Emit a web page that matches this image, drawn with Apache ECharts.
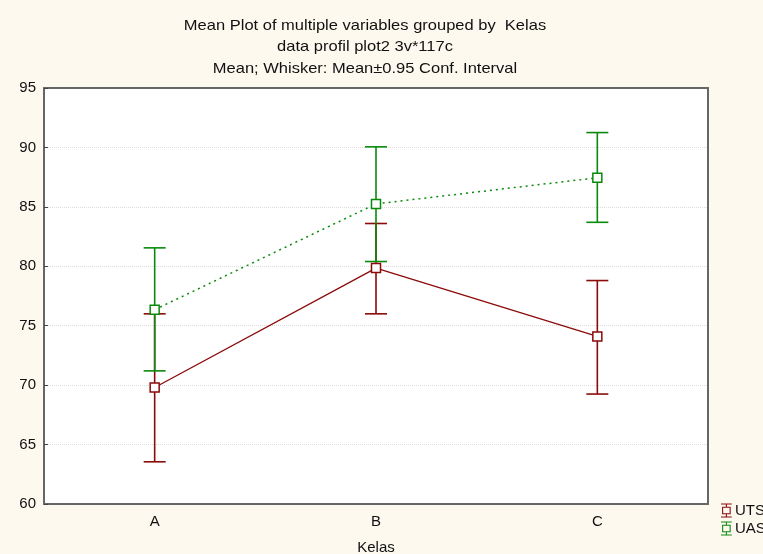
<!DOCTYPE html>
<html>
<head>
<meta charset="utf-8">
<script src="https://cdn.jsdelivr.net/npm/echarts@6/dist/echarts.min.js"></script>
<style>
html,body{margin:0;padding:0;background:#FDF9EF;}
#chart{width:763px;height:554px;}
</style>
</head>
<body>
<div id="chart"></div>
<script>
const categories = ['A', 'B', 'C'];
const utsMean = [69.8, 79.85, 74.1];
const utsLow = [63.55, 76.0, 69.25];
const utsHigh = [76.0, 83.6, 78.8];
const uasMean = [76.35, 85.25, 87.45];
const uasLow = [71.2, 80.4, 83.7];
const uasHigh = [81.55, 90.05, 91.25];
const yTicks = [60, 65, 70, 75, 80, 85, 90, 95];
const titleLines = [
  'Mean Plot of multiple variables grouped by  Kelas',
  'data profil plot2 3v*117c',
  'Mean; Whisker: Mean\u00b10.95 Conf. Interval'
];

const UTS_COLOR = '#8B0A0A';
const UAS_COLOR = '#0A8A0A';
const FONT = "'Liberation Sans', Arial, sans-serif";

function errBar(color) {
  return function (params, api) {
    const x = api.value(0);
    const top = api.coord([x, api.value(2)]);
    const bot = api.coord([x, api.value(1)]);
    const hw = 11;
    const st = { stroke: color, lineWidth: 1.6 };
    return {
      type: 'group',
      children: [
        { type: 'line', shape: { x1: top[0], y1: top[1], x2: bot[0], y2: bot[1] }, style: st },
        { type: 'line', shape: { x1: top[0] - hw, y1: top[1], x2: top[0] + hw, y2: top[1] }, style: st },
        { type: 'line', shape: { x1: bot[0] - hw, y1: bot[1], x2: bot[0] + hw, y2: bot[1] }, style: st }
      ]
    };
  };
}

const legendIcon = 'path://M0,0 L10,0 L10,1 L5.5,1 L5.5,3 L9,3 L9,10 L5.5,10 L5.5,12 L10,12 L10,13 L0,13 L0,12 L4.5,12 L4.5,10 L1,10 L1,3 L4.5,3 L4.5,1 L0,1 Z M2,4 L2,9 L8,9 L8,4 Z';

const chart = echarts.init(document.getElementById('chart'), null, { renderer: 'canvas' });
chart.setOption({
  backgroundColor: '#FDF9EF',
  animation: false,
  graphic: titleLines.map((t, i) => ({
    type: 'text',
    x: 365,
    y: [26, 47, 69][i],
    scaleX: 1.1,
    style: {
      text: t,
      font: '15px ' + FONT,
      fill: '#111',
      textAlign: 'center',
      textVerticalAlign: 'middle'
    }
  })),
  legend: {
    orient: 'vertical',
    left: 716,
    top: 498,
    itemWidth: 11,
    itemHeight: 14,
    itemGap: 3,
    textStyle: { fontFamily: FONT, fontSize: 15, color: '#111', padding: [0, 0, 0, -2] },
    data: [
      { name: 'UTS', icon: legendIcon, itemStyle: { color: UTS_COLOR } },
      { name: 'UAS', icon: legendIcon, itemStyle: { color: UAS_COLOR } }
    ]
  },
  grid: { left: 44, right: 55, top: 88, bottom: 50, show: true, backgroundColor: '#FFFFFF', borderWidth: 0, outerBoundsMode: 'none', containLabel: false },
  xAxis: [
    {
      type: 'category',
      data: categories,
      boundaryGap: true,
      name: 'Kelas',
      nameLocation: 'middle',
      nameGap: 36,
      nameTextStyle: { fontFamily: FONT, fontSize: 15, color: '#111' },
      axisLine: { lineStyle: { color: '#666', width: 2 } },
      axisTick: { alignWithLabel: true, inside: true, length: 5, lineStyle: { color: '#444' } },
      axisLabel: { fontFamily: FONT, fontSize: 15, color: '#111', margin: 10 }
    },
    {
      type: 'category',
      data: categories,
      position: 'top',
      boundaryGap: true,
      axisLine: { lineStyle: { color: '#666', width: 2 } },
      axisTick: { alignWithLabel: true, inside: true, length: 5, lineStyle: { color: '#444' } },
      axisLabel: { show: false }
    }
  ],
  yAxis: [
    {
      type: 'value',
      min: 60,
      max: 95,
      interval: 5,
      axisLine: { show: true, lineStyle: { color: '#666', width: 2 } },
      axisTick: { show: true, inside: true, length: 4, lineStyle: { color: '#444' } },
      axisLabel: {
        fontFamily: FONT, fontSize: 15, color: '#111', margin: 8,
        formatter: v => (yTicks.indexOf(v) >= 0 ? String(v) : '')
      },
      splitLine: { show: true, lineStyle: { color: '#DDDDDD', type: 'dotted', width: 1 } }
    },
    {
      type: 'value',
      min: 60,
      max: 95,
      interval: 5,
      position: 'right',
      axisLine: { show: true, lineStyle: { color: '#666', width: 2 } },
      axisTick: { show: false },
      axisLabel: { show: false },
      splitLine: { show: false }
    }
  ],
  series: [
    {
      name: 'UTS',
      type: 'custom',
      renderItem: errBar(UTS_COLOR),
      data: categories.map((c, i) => [i, utsLow[i], utsHigh[i]]),
      encode: { x: 0, y: [1, 2] },
      z: 2
    },
    {
      name: 'UAS',
      type: 'custom',
      renderItem: errBar(UAS_COLOR),
      data: categories.map((c, i) => [i, uasLow[i], uasHigh[i]]),
      encode: { x: 0, y: [1, 2] },
      z: 3
    },
    {
      name: 'UTS',
      type: 'line',
      data: utsMean,
      symbol: 'rect',
      symbolSize: 9,
      lineStyle: { color: UTS_COLOR, width: 1.3, type: 'solid' },
      itemStyle: { color: '#FFFFFF', borderColor: UTS_COLOR, borderWidth: 1.5 },
      z: 4
    },
    {
      name: 'UAS',
      type: 'line',
      data: uasMean,
      symbol: 'rect',
      symbolSize: 9,
      lineStyle: { color: UAS_COLOR, width: 1.5, type: [2, 4] },
      itemStyle: { color: '#FFFFFF', borderColor: UAS_COLOR, borderWidth: 1.5 },
      z: 5
    }
  ]
});
</script>
</body>
</html>
